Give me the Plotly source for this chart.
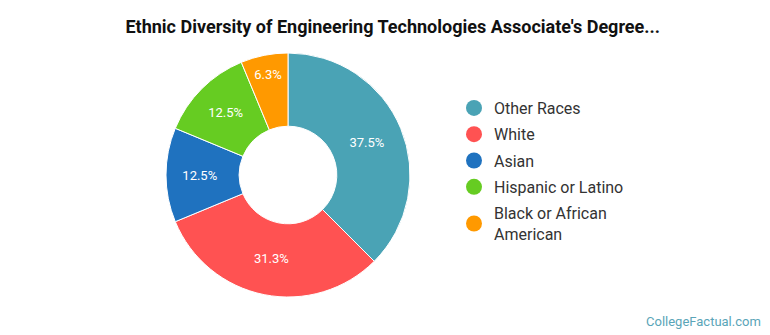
import plotly.graph_objects as go

categories = ["Other Races", "White", "Asian", "Hispanic or Latino", "Black or African American"]
legend_labels = ["Other Races", "White", "Asian", "Hispanic or Latino", "Black or African<br>American"]
shares = [37.5, 31.25, 12.5, 12.5, 6.25]
colors = ["#4aa3b5", "#ff5252", "#1f72bf", "#66cc22", "#ff9900"]

W, H = 770, 335
cx, cy, r = 288, 175, 122

fig = go.Figure()
fig.add_trace(go.Pie(
    labels=categories, values=shares, sort=False, direction="clockwise", rotation=0,
    hole=0.40, marker=dict(colors=colors, line=dict(color="white", width=1)),
    texttemplate="%{percent:.1%}", textposition="inside", insidetextorientation="horizontal",
    textfont=dict(family="Roboto", size=13, color="white"),
    showlegend=False, hoverinfo="label+percent",
    domain=dict(x=[(cx - r) / W, (cx + r) / W], y=[(H - cy - r) / H, (H - cy + r) / H]),
))
for i, (name, col) in enumerate(zip(legend_labels, colors)):
    fig.add_trace(go.Scatter(x=[None], y=[None], mode="markers", name=name, legendgroup=f"g{i}",
                             marker=dict(symbol="circle", size=18, color=col), showlegend=True))

fig.update_layout(
    width=W, height=H, margin=dict(l=0, r=0, t=0, b=0),
    paper_bgcolor="white", plot_bgcolor="white",
    title=dict(text="<b>Ethnic Diversity of Engineering Technologies Associate's Degree...</b>",
               x=0.51, xanchor="center", y=1 - 27 / H, yanchor="middle",
               font=dict(family="Roboto", size=18, color="#111")),
    xaxis=dict(visible=False), yaxis=dict(visible=False),
    legend=dict(x=454 / W, xanchor="left", y=1 - 91 / H, yanchor="top",
                font=dict(family="Roboto", size=16, color="#333"),
                itemsizing="trace", bgcolor="rgba(0,0,0,0)", tracegroupgap=2.5),
    annotations=[dict(text="CollegeFactual.com", x=763 / W, y=1 - 321 / H, xref="paper", yref="paper",
                      xanchor="right", yanchor="middle", showarrow=False,
                      font=dict(family="Roboto", size=13, color="#5aa5b8"))],
)
fig.write_html("out.html")
